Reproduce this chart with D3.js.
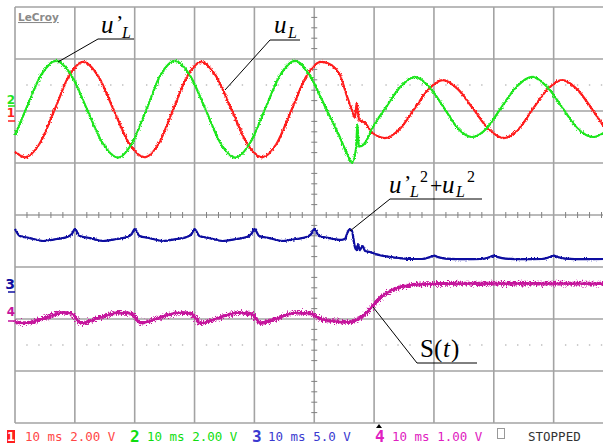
<!DOCTYPE html>
<html>
<head>
<meta charset="utf-8">
<script src="https://cdn.jsdelivr.net/npm/d3@7"></script>
<style>
body { margin: 0; background: #fff; }
svg { display: block; }
.status { font-family: "DejaVu Sans Mono", monospace; font-size: 12.5px; }
.note { font-family: "Liberation Serif", "DejaVu Serif", serif; fill: #000; }
</style>
</head>
<body>
<svg width="603" height="446"></svg>
<script>
// data: [time ms, volts]
var ch1 = [[0,-1.6],[1.7,-1.82],[4.1,-1.3],[6.6,0],[9.0,1.3],[11.4,1.85],[13.9,1.3],[16.5,0],[19.1,-1.3],[21.7,-1.82],
  [24.0,-1.3],[26.4,0],[28.8,1.3],[31.1,1.85],[33.6,1.3],[36.2,0],[38.8,-1.3],[41.3,-1.82],[43.7,-1.3],[46.2,0],
  [48.7,1.3],[51.1,1.85],[53.3,1.65],[54.3,1.35],[55.5,0.5],[56.3,0],[56.8,-0.3],[57.1,0.27],[57.5,-0.38],[58.5,-0.5],
  [59.6,-0.85],[61.8,-1.08],[64.2,-0.75],[66.7,0.03],[69.1,0.8],[71.5,1.15],[74.0,0.8],[76.6,0.03],[79.2,-0.75],
  [81.7,-1.08],[84.1,-0.75],[86.5,0.03],[89.0,0.8],[91.4,1.15],[93.9,0.8],[96.4,0.03],[98.5,-0.68]];

var ch2 = [[0,-1.0],[1.85,0],[4.35,1.3],[6.85,1.85],[9.4,1.3],[12.0,0],[14.6,-1.3],[17.2,-1.87],[19.6,-1.3],[22.0,0],
  [24.3,1.3],[26.7,1.85],[29.2,1.3],[31.8,0],[34.3,-1.3],[36.8,-1.87],[39.3,-1.3],[41.8,0],[44.3,1.3],[46.8,1.85],
  [49.2,1.3],[52.0,0],[54.3,-1.1],[55.2,-1.58],[56.3,-2.07],[57.0,-1.5],[57.2,-0.58],[57.45,-1.45],[58.5,-1.3],
  [59.8,-0.7],[62.0,0.07],[64.4,0.85],[66.8,1.23],[69.2,0.85],[71.6,0.07],[74.0,-0.75],[76.4,-1.08],[78.8,-0.75],
  [81.3,0.07],[83.8,0.85],[86.4,1.23],[88.9,0.85],[91.4,0.07],[94.0,-0.75],[96.6,-1.08],[98.5,-0.9]];

var ch3 = [[0,5.0],[0.8,4.33],[2.5,4.13],[4.7,3.85],[7.0,4.04],[8.7,4.23],[9.5,4.52],
  [10,5.0],[10.8,4.33],[12.5,4.13],[14.7,3.85],[17.0,4.04],[18.7,4.23],[19.5,4.52],
  [20,5.0],[20.8,4.33],[22.5,4.13],[24.7,3.85],[27.0,4.04],[28.7,4.23],[29.5,4.52],
  [30,5.0],[30.8,4.33],[32.5,4.13],[34.7,3.85],[37.0,4.04],[38.7,4.23],[39.5,4.52],
  [40,5.0],[40.8,4.33],[42.5,4.13],[44.7,3.85],[47.0,4.04],[48.7,4.23],[49.5,4.52],
  [50,5.0],[50.8,4.33],[52.5,4.13],[54.3,3.95],[55.1,4.04],[55.6,4.71],[55.9,5.0],[56.3,4.8],[56.8,3.27],
  [57.1,2.98],[57.3,3.56],[57.6,2.98],[58.1,3.37],[58.5,2.88],[59.3,2.79],[60.2,2.6],[61.8,2.4],[64.3,2.21],
  [66,2.12],[68,2.12],[69.3,2.3],[70,2.45],[70.7,2.3],[72,2.15],[75,2.1],[78,2.12],[79.3,2.3],[80,2.45],
  [80.7,2.3],[82,2.15],[85,2.1],[88,2.12],[89.3,2.3],[90,2.45],[90.7,2.3],[92,2.15],[95,2.1],[98.5,2.12]];

var ch4 = [[0,-0.06],[1.5,-0.08],[4.5,0.0],[8.0,0.12],[9.5,0.1],[11.0,-0.08],[14.0,0.02],[17.5,0.12],[19.5,0.1],
  [21.0,-0.08],[24,0.02],[27.5,0.12],[29.5,0.1],[31,-0.08],[34,0.02],[37.5,0.12],[39.5,0.1],[41,-0.08],[44,0.02],
  [47,0.12],[49.5,0.1],[51,0.0],[53,-0.04],[56,-0.06],[57.6,0.02],[58.8,0.13],[60.2,0.31],[61.8,0.48],[63.5,0.58],
  [66,0.65],[68.5,0.67],[75,0.68],[85,0.68],[98.5,0.68]];

var channels = [
  {name: "1", data: ch1, perDiv: 2, offset: 2.02, color: "#ff1f1f", label: "10 ms 2.00 V", text: "#ff4646"},
  {name: "2", data: ch2, perDiv: 2, offset: 2.04, color: "#1ee61e", label: "10 ms 2.00 V", text: "#10dd10"},
  {name: "3", data: ch3, perDiv: 5, offset: -1.27, color: "#0f0fa0", label: "10 ms 5.0 V", text: "#3a3ad0"},
  {name: "4", data: ch4, perDiv: 1, offset: -2.0, color: "#c5139c", label: "10 ms 1.00 V", text: "#e020c0"}
];
// trace look: base line width, noisy layer width and noise spread per channel
var baseWidth = [1.3, 1.3, 1.4, 2.2];
var traceWidth = [2.2, 2.2, 2.2, 3.6];
var noise = [4, 4, 3, 9];

var svg = d3.select("svg");
svg.append("rect").attr("width", 603).attr("height", 446).attr("fill", "#fff");

var x = d3.scaleLinear().domain([0, 100]).range([15, 613.5]);
var y = d3.scaleLinear().domain([-4, 4]).range([423, 7]);

var defs = svg.append("defs");
noise.forEach(function(s, i) {
  var f = defs.append("filter").attr("id", "fz" + i)
    .attr("filterUnits", "userSpaceOnUse").attr("x", 0).attr("y", 0).attr("width", 603).attr("height", 446);
  f.append("feTurbulence").attr("type", "fractalNoise").attr("baseFrequency", "1.2 0.7")
    .attr("numOctaves", 1).attr("seed", i + 2).attr("result", "n");
  f.append("feDisplacementMap").attr("in", "SourceGraphic").attr("in2", "n").attr("scale", s)
    .attr("xChannelSelector", "R").attr("yChannelSelector", "G");
});

// grid
var grid = svg.append("g").attr("stroke", "#a3a3a3").attr("stroke-width", 1.6);
grid.selectAll("line.v").data(d3.range(0, 101, 10)).enter().append("line")
  .attr("x1", d => x(d)).attr("x2", d => x(d)).attr("y1", y(4)).attr("y2", y(-4));
grid.selectAll("line.h").data(d3.range(-4, 5, 1)).enter().append("line")
  .attr("class", "h")
  .attr("x1", x(0)).attr("x2", x(100)).attr("y1", d => y(d)).attr("y2", d => y(d));

// center ticks
var ticks = svg.append("g").attr("stroke", "#808080").attr("stroke-width", 1);
ticks.selectAll("line.tx").data(d3.range(0, 101, 2).filter(d => d % 10)).enter().append("line")
  .attr("x1", d => x(d)).attr("x2", d => x(d)).attr("y1", y(0) - 3).attr("y2", y(0) + 3);
ticks.selectAll("line.ty").data(d3.range(-4, 4.01, 0.2).filter(d => Math.abs(d - Math.round(d)) > 0.01)).enter().append("line")
  .attr("class", "ty")
  .attr("x1", x(50) - 3).attr("x2", x(50) + 3).attr("y1", d => y(d)).attr("y2", d => y(d));

// dotted rows
[2.5, -2.5].forEach(function(r) {
  svg.append("g").selectAll("rect").data(d3.range(2, 100, 2).filter(d => d % 10)).enter().append("rect")
    .attr("x", d => x(d) - 0.7).attr("y", y(r) - 0.7).attr("width", 1.4).attr("height", 1.4).attr("fill", "#b8b8b8");
});

svg.append("text").attr("x", 18).attr("y", 21).text("LeCroy")
  .attr("font-family", "DejaVu Sans").attr("font-weight", "bold").attr("font-size", 10.5)
  .attr("fill", "#8a8a8a").attr("text-decoration", "underline");

// traces: a plain line plus a noisy copy on top
var order = [3, 2, 0, 1];
order.forEach(function(i) {
  var c = channels[i];
  var line = d3.line()
    .x(d => x(d[0]))
    .y(d => y(c.offset + d[1] / c.perDiv))
    .curve(d3.curveMonotoneX);
  svg.append("path").datum(c.data).attr("d", line)
    .attr("fill", "none").attr("stroke", c.color).attr("stroke-width", baseWidth[i]);
  svg.append("path").datum(c.data).attr("d", line)
    .attr("fill", "none").attr("stroke", c.color).attr("stroke-width", traceWidth[i])
    .attr("filter", "url(#fz" + i + ")");
});

// channel markers
var markerY = [[117, 121], [104, 106], [289, 292], [316, 321]];
channels.forEach(function(c, i) {
  svg.append("text").attr("x", 15).attr("y", markerY[i][0]).attr("text-anchor", "end")
    .attr("font-family", "DejaVu Sans").attr("font-weight", "bold").attr("font-size", i == 2 ? 14 : 12)
    .attr("fill", c.color).text(c.name);
  svg.append("line").attr("x1", 8).attr("x2", 15).attr("y1", markerY[i][1]).attr("y2", markerY[i][1])
    .attr("stroke", c.color).attr("stroke-width", 1.5);
});

// annotations
var ann = svg.append("g").attr("stroke", "#000").attr("stroke-width", 1).attr("fill", "none");
var leaders = [
  [[58, 62], [98, 39], [134, 39]],
  [[225, 90], [270, 40], [300, 40]],
  [[350, 231], [390, 199], [482, 199]],
  [[373, 307], [417, 363], [477, 363]]
];
leaders.forEach(function(p) { ann.append("path").attr("d", d3.line()(p)); });

function note(parts) {
  var t = svg.append("text").attr("class", "note");
  parts.forEach(function(p) {
    t.append("tspan").attr("x", p[1]).attr("y", p[2]).attr("font-size", p[3])
      .attr("font-style", p[4] ? "italic" : "normal").text(p[0]);
  });
}
note([["u", 101, 33, 25, 1], ["\u2019", 116, 30, 22, 0], ["L", 122, 38, 16, 1]]);
note([["u", 274, 33, 25, 1], ["L", 288, 38, 16, 1]]);
note([["u", 389, 193, 25, 1], ["\u2019", 404, 190, 22, 0], ["L", 410, 197, 16, 1], ["2", 420, 182, 16, 0],
  ["+", 430, 193, 22, 0], ["u", 442, 193, 25, 1], ["L", 456, 197, 16, 1], ["2", 467, 182, 16, 0]]);
note([["S(", 420, 357, 25, 0], ["t", 443, 357, 25, 1], [")", 451, 357, 25, 0]]);

// status bar
var labelX = [[7, 25], [130, 147], [252, 268], [375, 392]];
channels.forEach(function(c, i) {
  if (i == 0) {
    svg.append("rect").attr("x", 7).attr("y", 430).attr("width", 8).attr("height", 13).attr("fill", "#ff1f1f");
    svg.append("text").attr("x", 11).attr("y", 441).attr("text-anchor", "middle").attr("fill", "#fff")
      .attr("font-family", "DejaVu Sans Mono").attr("font-weight", "bold").attr("font-size", 13).text(c.name);
  } else {
    svg.append("text").attr("x", labelX[i][0]).attr("y", 442).attr("fill", c.text)
      .attr("font-family", "DejaVu Sans Mono").attr("font-weight", "bold").attr("font-size", 16).text(c.name);
  }
  svg.append("text").attr("class", "status").attr("x", labelX[i][1]).attr("y", 441)
    .attr("fill", c.text).text(c.label);
});
svg.append("path").attr("d", "M376,428 L382,428 L379,424 Z").attr("fill", "#000");
svg.append("rect").attr("x", 497.5).attr("y", 428.5).attr("width", 7).attr("height", 10)
  .attr("fill", "none").attr("stroke", "#999");
svg.append("text").attr("class", "status").attr("x", 528).attr("y", 441).attr("fill", "#333").text("STOPPED");
</script>
</body>
</html>
